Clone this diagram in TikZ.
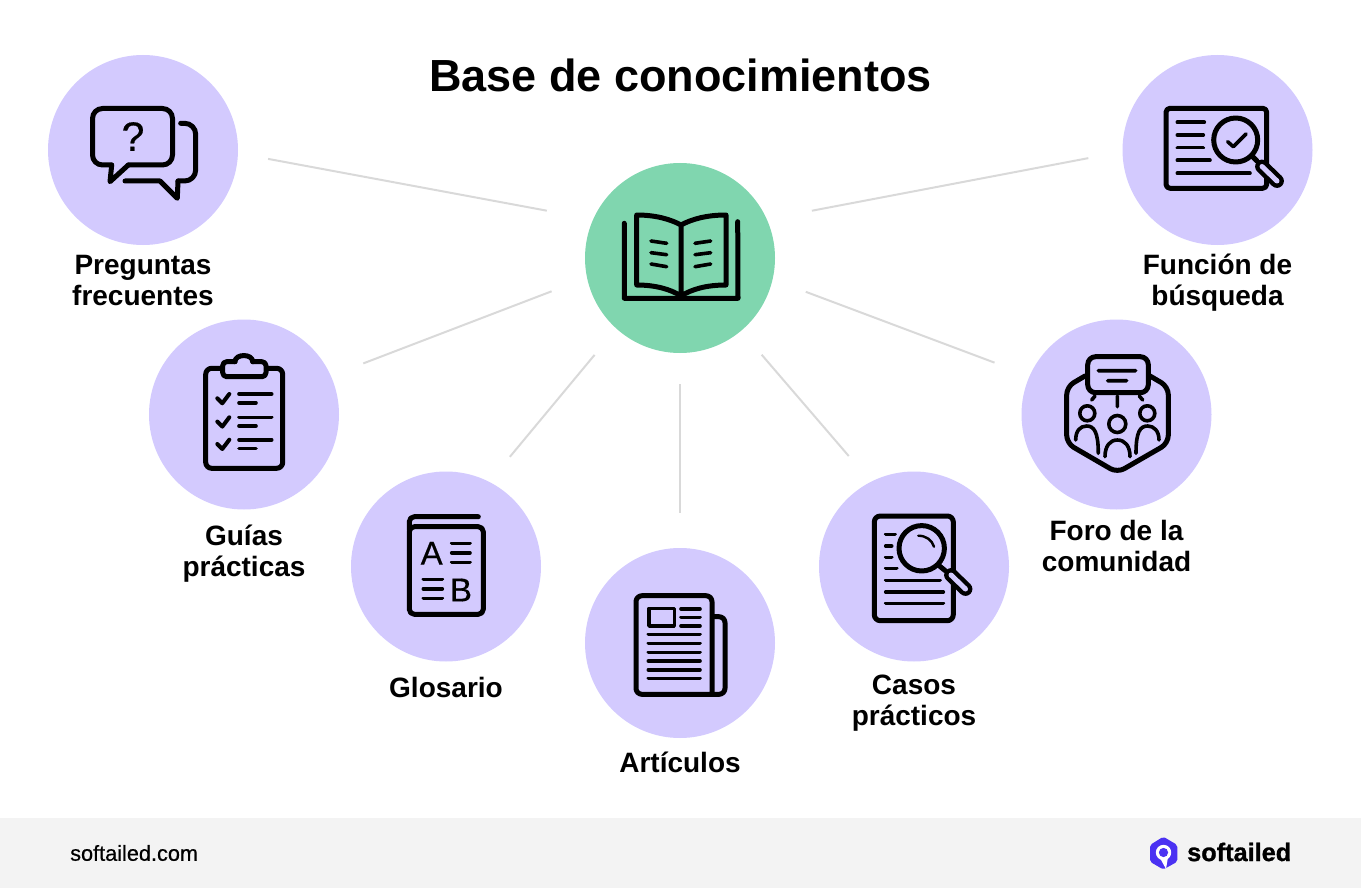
\documentclass[tikz,border=0pt]{standalone}
\usepackage{fontspec}
\setmainfont{Liberation Sans}
\newfontfamily\medfont[FakeBold=0.5]{Liberation Sans}
\newfontfamily\heavyfont[BoldFeatures={FakeBold=1}]{Liberation Sans}
\usetikzlibrary{positioning}
\definecolor{lavender}{HTML}{D3CAFE}
\definecolor{mint}{HTML}{80D6AF}
\definecolor{spokegray}{HTML}{D9D9D9}
\definecolor{footgray}{HTML}{F3F3F3}
\definecolor{logoblue}{HTML}{4B32F2}

\begin{document}
\begin{tikzpicture}[x=1pt,y=-1pt,
    topic/.style={circle,fill=lavender,minimum size=190pt,inner sep=0pt},
    hubnode/.style={circle,fill=mint,minimum size=190pt,inner sep=0pt},
    lbl/.style={font=\fontsize{28}{31}\bfseries\selectfont,align=center,inner sep=0pt},
    spoke/.style={draw=spokegray,line width=2pt},
    icon/.style={draw=black,line width=5pt,line cap=round,line join=round},
    thinicon/.style={draw=black,line width=3.6pt,line cap=round,line join=round},
    handle/.style={draw=black,line width=4.4pt,double=lavender,double distance=5pt,line cap=round}]
    \useasboundingbox (0,0) rectangle (1361,888);
    \fill[footgray] (0,818) rectangle (1361,888);

    \node[lbl,font=\fontsize{45}{50}\bfseries\selectfont] (title) at (680.5,75) {Base de conocimientos};

    \node[hubnode] (hub) at (680,258) {};
    \node[topic] (faq) at (143,150) {};
    \node[topic] (guias) at (244,414.5) {};
    \node[topic] (glosario) at (446,566.5) {};
    \node[topic] (articulos) at (680,643) {};
    \node[topic] (casos) at (914,566.5) {};
    \node[topic] (foro) at (1116.5,414.5) {};
    \node[topic] (busqueda) at (1217.5,150) {};

    \node[lbl,below=10pt of faq] (faqlbl) {Preguntas\\frecuentes};
    \node[lbl,below=15pt of guias] (guiaslbl) {Guías\\prácticas};
    \node[lbl,below=15pt of glosario] (glosariolbl) {Glosario};
    \node[lbl,below=14pt of articulos] (articuloslbl) {Artículos};
    \node[lbl,below=13pt of casos] (casoslbl) {Casos\\prácticos};
    \node[lbl,below=10pt of foro] (forolbl) {Foro de la\\comunidad};
    \node[lbl,below=8.5pt of busqueda] (busquedalbl) {Función de\\búsqueda};

    \draw[spoke,shorten <=30.5pt,shorten >=47pt] (faq.-2) -- (hub.156.6);
    \draw[spoke,shorten <=34.6pt,shorten >=37.8pt] (guias.24) -- (hub.192);
    \draw[spoke,shorten <=32.3pt,shorten >=34pt] (glosario.63.7) -- (hub.228.7);
    \draw[spoke,shorten <=35pt,shorten >=31pt] (articulos.north) -- (hub.south);
    \draw[spoke,shorten <=33.8pt,shorten >=31.4pt] (casos.117.9) -- (hub.310.6);
    \draw[spoke,shorten <=37.4pt,shorten >=35.3pt] (foro.156.2) -- (hub.347.6);
    \draw[spoke,shorten <=34.6pt,shorten >=45.7pt] (busqueda.181.7) -- (hub.24.8);

    % book
    \draw[icon] (624.3,223.3) -- (624.3,298.3) -- (738,298.3) -- (737.7,221.7);
    \draw[icon] (681,225) .. controls (670,219) and (655,215) .. (636.7,215) -- (636.7,285)
        .. controls (655,285) and (670,289) .. (681,296)
        .. controls (692,289) and (707,285) .. (726,285) -- (726,215)
        .. controls (707,215) and (692,219) .. (681,225) -- (681,296);
    \draw[thinicon] (651,241) -- (666.7,243.3) (651,252.7) -- (666.7,254.7) (651,264) -- (666.7,266.7)
        (695,243.3) -- (710.7,241) (695,254.7) -- (710.7,252.7) (695,266.7) -- (710.7,264);

    % speech bubbles
    \draw[icon,rounded corners=10pt] (128.3,165) -- (172.5,165) -- (172.5,108.5) -- (92.5,108.5) -- (92.5,165) -- (111.7,165);
    \draw[icon] (111.7,165) -- (110,181.7) -- (128.3,165);
    \draw[icon] (125,181) -- (160,181) -- (177.3,198.3) -- (178,181);
    \draw[icon,rounded corners=11pt] (178,181) -- (195.7,181) -- (195.7,123.3) -- (180.7,123.3);
    \node[font=\fontsize{41}{43}\medfont,inner sep=0pt] (qmark) at (133,136.5) {?};

    % search document
    \draw[icon,rounded corners=4pt] (1166,108.3) rectangle (1266.7,188.3);
    \draw[thinicon] (1177.3,122.3) -- (1204.3,122.3) (1177.3,135) -- (1203.3,135) (1177.3,147.7) -- (1203.3,147.7)
        (1177.3,160.3) -- (1210,160.3) (1177.3,173.3) -- (1250,173.3);
    \draw[icon,fill=lavender] (1235.7,140) circle [radius=22];
    \draw[thinicon] (1227.7,141.7) -- (1233.3,146.7) -- (1246,134);
    \draw[icon] (1251.7,155.7) -- (1257,161);
    \draw[handle] (1262,166.5) -- (1277,181);

    % community
    \draw[icon,rounded corners=8pt] (1085,376) -- (1066.7,386.7) -- (1066.7,443.3) -- (1117.3,472.7)
        -- (1168.3,443.3) -- (1168.3,386.7) -- (1150,376);
    \draw[icon,rounded corners=8pt] (1087.7,356.7) rectangle (1148.3,392.7);
    \draw[thinicon] (1098.3,370.7) -- (1135.7,370.7) (1107.7,380.7) -- (1126.7,380.7)
        (1095,396) -- (1091.7,400) (1117.3,396) -- (1117.3,406.7) (1139.3,396) -- (1142.7,400);
    \draw[thinicon] (1087.3,413.3) circle [radius=7.5] (1147.3,413.3) circle [radius=7.5] (1117.3,424) circle [radius=8.5];
    \draw[thinicon] (1075.7,440) .. controls (1075.7,431) and (1080,426) .. (1086.7,426) .. controls (1094,426) and (1098.3,432) .. (1098.3,453.3);
    \draw[thinicon] (1136,453.3) .. controls (1136,432) and (1140,426) .. (1147.7,426) .. controls (1154,426) and (1159,431) .. (1159,440);
    \draw[thinicon] (1105,456.7) .. controls (1105,446) and (1110,440) .. (1117.3,440) .. controls (1125,440) and (1130,446) .. (1130,456.7);

    % clipboard
    \draw[icon,rounded corners=6pt] (205.7,368.3) rectangle (282.7,468.3);
    \draw[icon,fill=lavender,rounded corners=4pt] (235,361.7) -- (222.7,361.7) -- (222.7,376.7) -- (266,376.7) -- (266,361.7) -- (252.7,361.7);
    \draw[icon,fill=lavender] (235,361.7) .. controls (235,353.5) and (252.7,353.5) .. (252.7,361.7);
    \draw[icon,line width=4pt] (217.3,398.3) -- (222.3,403.3) -- (229.3,394) (217.3,421.6) -- (222.3,426.6) -- (229.3,417.3)
        (217.3,444) -- (222.3,449) -- (229.3,439.7);
    \draw[thinicon] (239,394) -- (271.7,394) (239,402.7) -- (256,402.7) (239,417.3) -- (271.7,417.3) (239,426) -- (256,426)
        (239,439.7) -- (271.7,439.7) (239,448.4) -- (256,448.4);

    % glossary
    \draw[icon,rounded corners=5pt] (409.3,526.7) rectangle (483.3,614.3);
    \draw[icon,rounded corners=5pt] (478.3,516.7) -- (409.3,516.7) -- (409.3,530);
    \node[font=\fontsize{33}{35}\medfont,inner sep=0pt] (letterA) at (431.7,553.3) {A};
    \node[font=\fontsize{33}{35}\medfont,inner sep=0pt] (letterB) at (461,590) {B};
    \draw[thinicon] (451.7,543.3) -- (470,543.3) (451.7,552.7) -- (470,552.7) (451.7,562.3) -- (470,562.3)
        (423.3,579.3) -- (442.3,579.3) (423.3,588.7) -- (442.3,588.7) (423.3,598.3) -- (442.3,598.3);

    % newspaper
    \draw[icon,rounded corners=6pt] (712,694.3) -- (636,694.3) -- (636,595.7) -- (712,595.7) -- (712,694.3);
    \draw[icon,rounded corners=6pt] (714,616.7) -- (725,616.7) -- (725,694.3) -- (712,694.3);
    \draw[thinicon] (649,608.3) rectangle (674.3,626);
    \draw[thinicon] (681,609) -- (700,609) (681,617.3) -- (700,617.3) (681,626) -- (700,626)
        (648.3,634.3) -- (700,634.3) (648.3,643.3) -- (700,643.3) (648.3,652.3) -- (700,652.3)
        (648.3,661) -- (700,661) (648.3,669.7) -- (700,669.7) (648.3,678.3) -- (700,678.3);

    % case study
    \draw[icon,rounded corners=6pt] (874.3,516) rectangle (953.3,620.7);
    \draw[thinicon] (885.7,534.3) -- (895,534.3) (885.7,546) -- (891.7,546) (885.7,557.3) -- (891.7,557.3)
        (885.7,568.3) -- (896.7,568.3) (885.7,580.3) -- (940,580.3) (885.7,592) -- (943.3,592) (885.7,603.3) -- (943.3,603.3);
    \draw[icon,fill=lavender] (921.7,548.3) circle [radius=22.7];
    \draw[draw=black,line width=2.4pt,line cap=round] (918.3,535.7) .. controls (926,535.7) and (932,540) .. (934,546.7);
    \draw[icon] (938.3,565) -- (945,570.5);
    \draw[handle] (951,575) -- (965.5,589);

    % footer
    \node[font=\fontsize{21.7}{24}\medfont,anchor=west,inner sep=0pt] (site) at (70,853) {softailed.com};
    \fill[logoblue,rounded corners=2pt] (1163.3,836.7) -- (1177.3,845) -- (1177.3,861.7) -- (1163.3,869.5) -- (1150,861.7) -- (1150,845) -- cycle;
    \fill[white] (1163.5,852.5) circle [radius=7.7];
    \fill[white] (1160,858) -- (1166,869) -- (1168,857) -- cycle;
    \fill[logoblue] (1163.5,852.5) circle [radius=4.6];
    \node[font=\fontsize{25.3}{28}\heavyfont\bfseries,anchor=west,inner sep=0pt] (brand) at (1187,852) {softailed};
\end{tikzpicture}
\end{document}
